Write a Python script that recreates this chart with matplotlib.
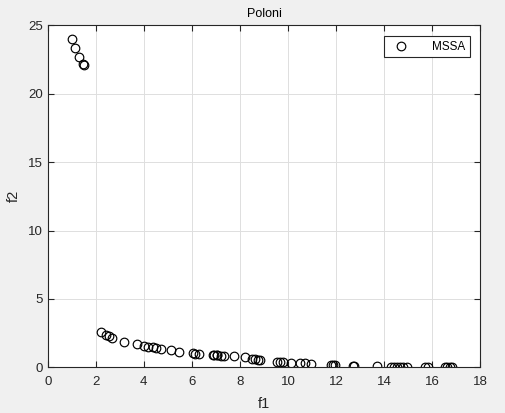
import matplotlib
matplotlib.use("Agg")
import matplotlib.pyplot as plt

# MSSA Pareto front (Poloni)
f1 = [1.00, 1.14, 1.31, 1.48, 1.51,
      2.20, 2.43, 2.56, 2.66, 3.19, 3.73, 4.01, 4.19, 4.37, 4.51, 4.73,
      5.12, 5.48, 6.03, 6.12, 6.28, 6.87, 6.92, 7.03, 7.06, 7.20, 7.34,
      7.75, 8.20, 8.51, 8.63, 8.76, 8.83, 9.53, 9.67, 9.80, 10.12, 10.50,
      10.71, 10.96, 11.79, 11.89, 11.97, 12.72, 12.75, 13.69, 14.30, 14.42,
      14.55, 14.66, 14.77, 14.94, 15.70, 15.81, 16.53, 16.63, 16.74, 16.84]
f2 = [23.98, 23.32, 22.66, 22.15, 22.10,
      2.58, 2.36, 2.29, 2.16, 1.85, 1.68, 1.58, 1.50, 1.46, 1.41, 1.32,
      1.29, 1.14, 1.02, 1.00, 0.97, 0.90, 0.88, 0.88, 0.87, 0.86, 0.85,
      0.80, 0.73, 0.63, 0.60, 0.57, 0.55, 0.41, 0.40, 0.38, 0.35, 0.32,
      0.30, 0.27, 0.19, 0.18, 0.17, 0.10, 0.09, 0.06, 0.05, 0.05,
      0.04, 0.04, 0.03, 0.03, 0.02, 0.02, 0.01, 0.01, 0.01, 0.01]

BG = "#f0f0f0"
plt.rcParams["font.family"] = ["Liberation Sans", "DejaVu Sans"]

fig = plt.figure(figsize=(5.06, 4.13), dpi=100)
fig.patch.set_facecolor(BG)
ax = fig.add_axes([47.7 / 506, (413 - 367.3) / 413, 432.6 / 506, 342 / 413])
ax.plot(f1, f2, "o", mfc="none", mec="black", ms=6.2, mew=0.85, label="MSSA")

ax.set_xlim(0, 18)
ax.set_ylim(0, 25)
ax.set_xticks(range(0, 19, 2))
ax.set_yticks(range(0, 26, 5))
ax.grid(True, color="#dedede", lw=0.7)
ax.set_axisbelow(True)
ax.tick_params(direction="in", length=4, labelsize=9.5, colors="#262626", top=True, right=True,
               labeltop=False, labelright=False)
ax.tick_params(axis="x", pad=6)
for s in ax.spines.values():
    s.set_color("#262626")
    s.set_linewidth(0.8)

ax.set_xlabel("f1", fontsize=10.5, color="#262626", labelpad=7)
ax.set_ylabel("f2", fontsize=10.5, color="#262626", labelpad=5)
ax.set_title("Poloni", fontsize=9, color="black", pad=6)

lg = ax.legend(loc="upper right", fontsize=8.5, fancybox=False, framealpha=1,
               edgecolor="#262626", borderpad=0.4, handletextpad=1.6,
               borderaxespad=0.9, handlelength=2.0)
lg.get_frame().set_linewidth(0.8)

fig.savefig("out.png", dpi=100, facecolor=BG)
